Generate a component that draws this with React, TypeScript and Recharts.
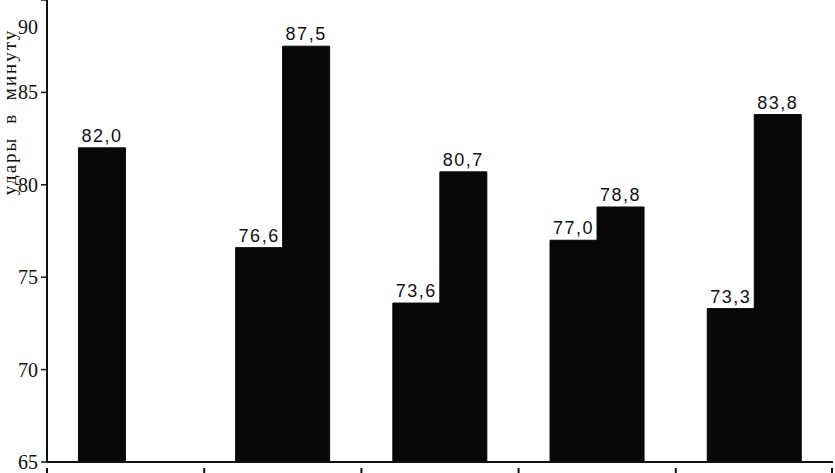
import React from 'react';
import { BarChart, Bar, XAxis, YAxis, LabelList, Label } from 'recharts';

const categories = ['1', '2', '3', '4', '5'];
const seriesA = [82.0, 76.6, 73.6, 77.0, 73.3];
const seriesB: (number | null)[] = [null, 87.5, 80.7, 78.8, 83.8];
const yTicks = [65, 70, 75, 80, 85, 90];
const yLabel = 'удары в минуту';

const data = categories.map((c, i) => ({ name: c, a: seriesA[i], b: seriesB[i] }));

const fmt = (v: any) => (v == null ? '' : Number(v).toFixed(1).replace('.', ','));

const YTick = (props: any) => {
  const { x, y, payload } = props;
  const top = payload.value === yTicks[yTicks.length - 1];
  return (
    <text x={x - 1} y={top ? y + 27 : y} dy={7} textAnchor="end" fontFamily="Liberation Serif, serif" fontSize={20} fill="#111">
      {payload.value}
    </text>
  );
};

const XTick = (props: any) => {
  const { x, y, payload, index } = props;
  const half = payload && payload.offset ? payload.offset : 78.6;
  const last = index === categories.length - 1;
  return (
    <g>
      <line x1={x - half} x2={x - half} y1={y - 2} y2={y + 8} stroke="#111" strokeWidth={2} />
      {last && <line x1={x + half - 1} x2={x + half - 1} y1={y - 2} y2={y + 8} stroke="#111" strokeWidth={2} />}
    </g>
  );
};

const YLabelContent = () => (
  <text
    x={16}
    y={112}
    transform="rotate(-90 16 112)"
    textAnchor="middle"
    fontFamily="Liberation Serif, serif"
    fontSize={19}
    fill="#111"
    style={{ wordSpacing: '6px', letterSpacing: '2px' }}
  >
    {yLabel}
  </text>
);

const labelStyle = { fontFamily: 'Liberation Sans, sans-serif', fontSize: 18, letterSpacing: '1.5px', fill: '#111' };

export default function App() {
  return (
    <div style={{ position: 'absolute', left: 0, top: 0, background: '#fff' }}>
      <BarChart
        width={835}
        height={473}
        data={data}
        margin={{ top: 0, right: 2, left: 0, bottom: 0 }}
        barCategoryGap="20%"
        barGap={0}
      >
        <XAxis
          dataKey="name"
          height={11}
          axisLine={{ stroke: '#111', strokeWidth: 2 }}
          tickLine={false}
          tick={<XTick />}
          interval={0}
        />
        <YAxis
          width={47}
          domain={[65, 90]}
          ticks={yTicks}
          allowDataOverflow
          axisLine={{ stroke: '#111', strokeWidth: 2 }}
          tickLine={{ stroke: '#111', strokeWidth: 1.5 }}
          tickSize={6}
          tick={<YTick />}
          interval={0}
        >
          <Label content={<YLabelContent />} />
        </YAxis>
        <Bar dataKey="a" fill="#080808" stroke="#080808" strokeWidth={1} isAnimationActive={false}>
          <LabelList dataKey="a" position="top" offset={6} formatter={fmt} style={labelStyle} />
        </Bar>
        <Bar dataKey="b" fill="#080808" stroke="#080808" strokeWidth={1} isAnimationActive={false}>
          <LabelList dataKey="b" position="top" offset={6} formatter={fmt} style={labelStyle} />
        </Bar>
      </BarChart>
    </div>
  );
}
